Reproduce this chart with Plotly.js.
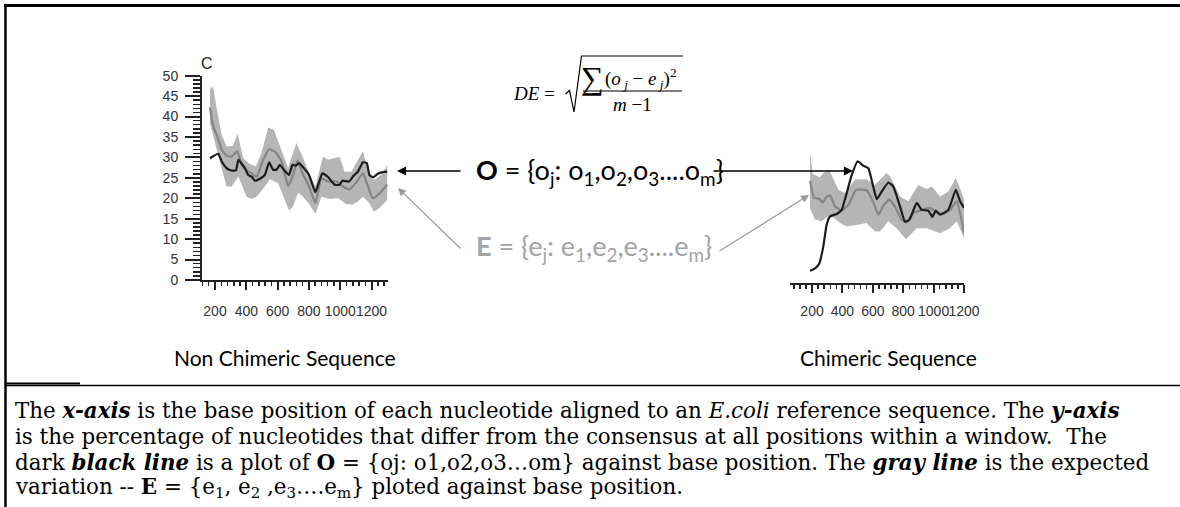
<!DOCTYPE html>
<html>
<head>
<meta charset="utf-8">
<script src="https://cdn.plot.ly/plotly-3.0.1.min.js"></script>
<style>html,body{margin:0;padding:0;background:#fff;}#chart{width:1180px;height:507px;}</style>
</head>
<body>
<div id="chart"></div>
<script>
// ---- Non chimeric sequence (left panel) ----
const leftObsX = [168,221,243,274,306,334,349,391,412,434,455,487,518,546,571,593,614,639,673,695,716,737,767,801,841,886,922,964,996,1013,1056,1085,1113,1145,1170,1187,1213,1240,1272,1300];
const leftObsY = [29.8,30.9,29,27.4,26.8,26.8,29.4,27.4,25.7,25.3,24.3,24.8,25.7,28.8,27,27,28.2,27,25.7,28.2,28,28.6,27.4,25.7,21.5,26.1,25.2,23.3,23.3,24.3,24.1,25.5,26.5,28.8,28.6,25.6,25.2,26,26.4,26.5];
const leftExpX = [168,189,211,243,274,306,342,370,402,434,466,508,546,589,625,667,695,727,759,801,841,880,922,975,1017,1060,1098,1145,1177,1208,1251,1300];
const leftExpY = [42.2,37.6,35.5,31.9,30.4,30.2,31.5,28.2,26.7,26.1,25.3,29.4,32,31.2,29,23,25.3,29.2,26.1,22.9,18.8,24.9,24.1,24.1,22.9,22.2,23.7,26.1,22.9,20,21.2,23.3];
const leftUpX = [168,187,211,243,274,313,345,380,423,461,497,540,576,625,667,720,759,801,841,890,922,996,1028,1071,1145,1177,1219,1272,1300];
const leftUpY = [46.6,47.4,42,35.5,32.7,32.8,35.8,29.8,28.4,27.8,31.1,37.3,36.8,31.9,27.4,33.5,30.2,26.1,22.9,30.2,29.4,30.1,26.5,26.5,31.5,27,24.5,26.1,28.2];
const leftLoX = [168,211,274,306,349,402,434,466,518,550,603,635,673,699,731,763,805,841,880,932,985,1038,1077,1113,1145,1187,1215,1251,1300];
const leftLoY = [38.4,31.9,22.9,22.9,25.3,20.4,19.8,20.4,22.9,24.7,23.7,20.4,17,18,21.4,20.4,18.4,16.1,20.4,19.8,20,18.6,18.4,19.2,20.4,18.8,16.7,17.6,19.6];

// ---- Chimeric sequence (right panel) ----
const rightObsX = [187,220,248,274,296,318,362,395,428,461,500,538,571,626,659,702,735,779,812,841,889,922,965,992,1014,1042,1097,1146,1174,1200];
const rightObsY = [3,3.6,4.8,8.9,14.2,16.3,16.9,17.9,22,26.4,29.8,28.7,28.1,20.5,22.4,24.6,23.6,18.7,15,15.5,19.6,17.9,17.7,16.2,17.7,16.7,17.9,22.8,20,18.4];
const rightExpX = [187,213,248,270,296,318,351,395,439,489,559,603,636,669,708,746,789,822,866,922,976,1020,1064,1108,1152,1200];
const rightExpY = [25,20.9,20.6,19.7,21.1,21.5,18.8,17.7,19.1,22.8,22.7,19.8,16.7,18.9,20.4,18.7,15.5,14.8,17.1,17.9,18.4,17.3,16.9,17.9,20,12.4];
const rightUpX = [187,205,252,279,314,373,417,483,559,614,691,713,779,834,899,955,988,1042,1097,1147,1185,1200];
const rightUpY = [32,26.7,25.9,27.1,27.6,22.8,22,25.3,25.4,24,26.9,26.1,21.2,20,24,23,23.6,21.2,22.4,25.7,22,20.4];
const rightLoX = [187,220,264,318,384,428,494,559,614,647,702,757,818,889,955,1042,1108,1152,1200];
const rightLoY = [18.3,15.5,15.1,16.7,14.7,13.8,14.2,14.7,12.6,12.6,15.1,13.4,10.7,13.4,13.4,12.2,13.4,15.1,11];

// ---- text ----
const yTickStep = 5;
const xTickStep = 200;
const panelTitles = ["Non Chimeric Sequence", "Chimeric Sequence"];
const panelLetter = "C";
const captionLines = [
  "The <b><i>x-axis</i></b> is the base position of each nucleotide aligned to an <i>E.coli</i> reference sequence<i>.</i> The <b><i>y-axis</i></b>",
  "is the percentage of nucleotides that differ from the consensus at all positions within a window.  The",
  "dark <b><i>black line</i></b> is a plot of <b>O</b> = {oj: o1,o2,o3…om} against base position. The <b><i>gray line</i></b> is the expected",
  "variation -- <b>E</b> = {e<sub>1</sub>, e<sub>2</sub> ,e<sub>3</sub>….e<sub>m</sub>} ploted against base position."
];
const obsLabel = "<b>O</b> = {o<sub>j</sub>: o<sub>1</sub>,o<sub>2</sub>,o<sub>3</sub>....o<sub>m</sub>}";
const expLabel = "<b>E</b> = {e<sub>j</sub>: e<sub>1</sub>,e<sub>2</sub>,e<sub>3</sub>....e<sub>m</sub>}";

const W = 1180, H = 507;
const px = x => x / W;
const py = y => 1 - y / H;

const BAND = '#b5b5b5', GRAY = '#858585', BLACK = '#1c1c1c';

function band(ux, uy, lx, ly, xa, ya) {
  return {
    x: ux.concat(lx.slice().reverse()),
    y: uy.concat(ly.slice().reverse()),
    xaxis: xa, yaxis: ya, type: 'scatter', mode: 'lines', fill: 'toself',
    fillcolor: BAND, line: {width: 0, color: 'rgba(0,0,0,0)'}, hoverinfo: 'skip'
  };
}
function line(x, y, color, xa, ya) {
  return {x: x, y: y, xaxis: xa, yaxis: ya, type: 'scatter', mode: 'lines',
    line: {color: color, width: 2.2, shape: 'spline', smoothing: 0.4}, hoverinfo: 'skip'};
}

const data = [
  band(leftUpX, leftUpY, leftLoX, leftLoY, 'x', 'y'),
  line(leftExpX, leftExpY, GRAY, 'x', 'y'),
  line(leftObsX, leftObsY, BLACK, 'x', 'y'),
  band(rightUpX, rightUpY, rightLoX, rightLoY, 'x2', 'y2'),
  line(rightExpX, rightExpY, GRAY, 'x2', 'y2'),
  line(rightObsX, rightObsY, BLACK, 'x2', 'y2')
];

const tickFont = {family: 'Liberation Sans, Arial, sans-serif', size: 14, color: '#333'};
function xAxis(domain, range, standoff) {
  return {
    domain: domain, range: range, showgrid: false, zeroline: false,
    showline: true, linecolor: '#222', linewidth: 2,
    ticks: 'outside', tick0: 200, dtick: xTickStep, ticklen: 8, tickwidth: 2, tickcolor: '#222',
    minor: {ticks: 'outside', dtick: 40, ticklen: 4, tickwidth: 1.5, tickcolor: '#222'},
    tickfont: tickFont, tickangle: 0, ticklabelstandoff: standoff, fixedrange: true
  };
}

const layout = {
  width: W, height: H, margin: {l: 0, r: 0, t: 0, b: 0},
  paper_bgcolor: '#fff', plot_bgcolor: 'rgba(0,0,0,0)', showlegend: false,
  xaxis: xAxis([px(202), px(388)], [117, 1305], 9),
  yaxis: {
    domain: [py(280), py(75.7)], range: [0, 50], showgrid: false, zeroline: false,
    showline: true, linecolor: '#222', linewidth: 2,
    ticks: 'outside', dtick: yTickStep, ticklen: 15, tickwidth: 2, tickcolor: '#222',
    minor: {ticks: 'outside', dtick: 1, ticklen: 7, tickwidth: 1.5, tickcolor: '#222'},
    tickfont: tickFont, ticklabelstandoff: 4, fixedrange: true
  },
  xaxis2: Object.assign(xAxis([px(790), px(964)], [55, 1200], 6), {anchor: 'y2'}),
  yaxis2: {
    domain: [py(283), py(283 - 204.3)], range: [0, 50], visible: false, anchor: 'x2', fixedrange: true
  },
  shapes: [
    // frame
    {type: 'line', xref: 'paper', yref: 'paper', x0: px(4), y0: py(5.5), x1: px(1180), y1: py(5.5), line: {color: '#000', width: 3}},
    {type: 'line', xref: 'paper', yref: 'paper', x0: px(5.5), y0: py(4), x1: px(5.5), y1: py(507), line: {color: '#000', width: 2.5}},
    {type: 'line', xref: 'paper', yref: 'paper', x0: px(5), y0: py(385.5), x1: px(1180), y1: py(385.5), line: {color: '#000', width: 1.5}},
    {type: 'line', xref: 'paper', yref: 'paper', x0: px(5), y0: py(383.5), x1: px(80), y1: py(383.5), line: {color: '#000', width: 2}},
    // radical sign
    {type: 'path', xref: 'paper', yref: 'paper',
     path: `M ${px(565.5)},${py(94)} L ${px(569.5)},${py(90.5)} L ${px(574)},${py(112)} L ${px(581.5)},${py(56)} L ${px(683)},${py(56)}`,
     line: {color: '#000', width: 1.2}},
    // fraction bar
    {type: 'line', xref: 'paper', yref: 'paper', x0: px(583), y0: py(91), x1: px(682), y1: py(91), line: {color: '#000', width: 1.2}}
  ],
  annotations: []
};

const A = layout.annotations;
const serif = 'Liberation Serif, Times New Roman, serif';
const sansC = 'Lato, Open Sans, sans-serif';
// panel letter
A.push({xref: 'paper', yref: 'paper', x: px(207), y: py(64), text: panelLetter, showarrow: false,
  font: {family: 'Liberation Sans, Arial', size: 16, color: '#222'}, xanchor: 'center', yanchor: 'middle'});
// formula
A.push({xref: 'paper', yref: 'paper', x: px(534), y: py(93), text: '<i>DE</i> =', showarrow: false,
  font: {family: serif, size: 19, color: '#000'}, xanchor: 'center', yanchor: 'middle'});
A.push({xref: 'paper', yref: 'paper', x: px(592), y: py(78), text: '∑', showarrow: false,
  font: {family: serif, size: 32, color: '#000'}, xanchor: 'center', yanchor: 'middle'});
A.push({xref: 'paper', yref: 'paper', x: px(603), y: py(78), showarrow: false,
  text: '(<i>o</i><sub><i> j</i></sub> − <i>e</i><sub><i> j</i></sub>)<sup>2</sup>',
  font: {family: serif, size: 19, color: '#000'}, xanchor: 'left', yanchor: 'middle'});
A.push({xref: 'paper', yref: 'paper', x: px(632), y: py(105), text: '<i>m</i> −1', showarrow: false,
  font: {family: serif, size: 19, color: '#000'}, xanchor: 'center', yanchor: 'middle'});
// O / E labels
A.push({xref: 'paper', yref: 'paper', x: px(474), y: py(172), text: obsLabel, showarrow: false,
  font: {family: sansC, size: 27, color: '#000'}, xanchor: 'left', yanchor: 'middle'});
A.push({xref: 'paper', yref: 'paper', x: px(474), y: py(247), text: expLabel, showarrow: false,
  font: {family: sansC, size: 27, color: '#a3a3a3'}, xanchor: 'left', yanchor: 'middle'});
// arrows
function arrow(tipX, tipY, tailX, tailY, color, w) {
  A.push({xref: 'paper', yref: 'paper', x: px(tipX), y: py(tipY), ax: tailX - tipX, ay: tailY - tipY,
    axref: 'pixel', ayref: 'pixel', text: '', showarrow: true, arrowhead: 2, arrowsize: 1.3,
    arrowwidth: w, arrowcolor: color, standoff: 0, startstandoff: 0});
}
arrow(397, 171, 462, 171, '#000', 1.4);
arrow(853, 171, 712, 171, '#000', 1.4);
arrow(398, 188, 462, 250, '#999', 1.2);
arrow(809, 195, 718, 252, '#999', 1.2);
// panel titles
A.push({xref: 'paper', yref: 'paper', x: px(285), y: py(357), text: panelTitles[0], showarrow: false,
  font: {family: sansC, size: 21, color: '#000'}, xanchor: 'center', yanchor: 'middle'});
A.push({xref: 'paper', yref: 'paper', x: px(889), y: py(357), text: panelTitles[1], showarrow: false,
  font: {family: sansC, size: 21, color: '#000'}, xanchor: 'center', yanchor: 'middle'});
// caption
captionLines.forEach((t, i) => {
  A.push({xref: 'paper', yref: 'paper', x: px(13), y: py(410 + i * 26), text: t, showarrow: false,
    font: {family: 'DejaVu Serif, serif', size: 21.4, color: '#000'}, xanchor: 'left', yanchor: 'middle'});
});

Plotly.newPlot('chart', data, layout, {staticPlot: true, displayModeBar: false});
</script>
</body>
</html>
